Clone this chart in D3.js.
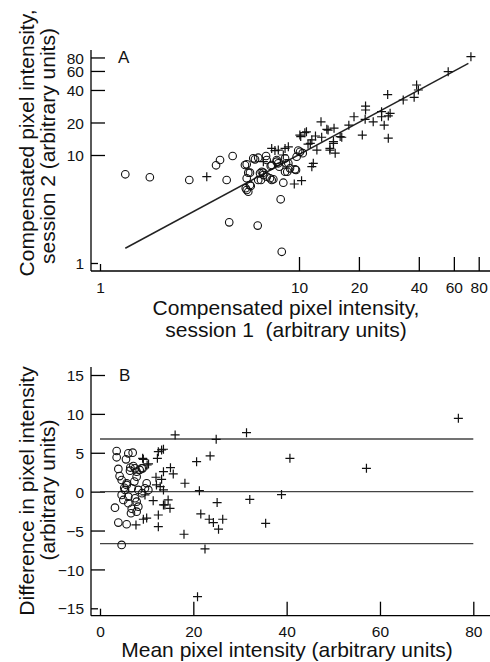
<!DOCTYPE html>
<html lang="en">
<head>
<meta charset="utf-8">
<script src="https://cdn.jsdelivr.net/npm/d3@7"></script>
<style>
  body { margin: 0; background: #fff; }
  svg text { font-family: "Liberation Sans", Arial, Helvetica, sans-serif; fill: #111; }
</style>
</head>
<body>
<script>
// ---- panel A data: session 1 vs session 2 (log-log) ----
const aTicks = [1, 10, 20, 40, 60, 80];

const aCircles = [
  [1.34, 6.63], [1.78, 6.22], [2.81, 5.87], [3.83, 8.03], [4.01, 8.99], [4.64, 9.79],
  [4.33, 5.87], [4.46, 2.38], [5.46, 8.20], [5.67, 6.86], [5.46, 6.09], [5.40, 4.92],
  [5.56, 4.57], [5.72, 5.16], [6.01, 9.12], [6.24, 9.44], [6.83, 9.79], [6.37, 6.77],
  [6.50, 7.00], [6.24, 5.87], [6.62, 6.53], [7.15, 6.09], [7.29, 5.87], [7.21, 7.91],
  [7.73, 8.67], [7.96, 7.79], [8.34, 5.54], [8.61, 8.38], [8.73, 7.00], [9.01, 7.53],
  [9.66, 7.26], [9.73, 9.64], [10.12, 10.7], [10.44, 10.4], [8.09, 3.89], [5.89, 9.31],
  [6.88, 8.99], [6.20, 2.22], [8.19, 1.27], [6.44, 5.87], [7.43, 5.96], [8.51, 7.00],
  [8.84, 8.38], [9.55, 7.37], [9.91, 11.0], [7.29, 8.08], [7.87, 8.38], [5.46, 4.74],
  [5.67, 5.27], [8.51, 9.31], [7.73, 8.99], [6.62, 6.86], [6.88, 6.30], [5.56, 6.86],
  [5.35, 8.08]
];

const aPluses = [
  [73.1, 81.3], [56.2, 59.1], [39.0, 44.5], [39.8, 40.0], [37.9, 34.2], [33.4, 32.3],
  [27.9, 36.3], [21.6, 28.4], [21.6, 26.1], [18.9, 22.6], [17.8, 18.9], [21.5, 21.4],
  [23.6, 20.3], [26.0, 22.6], [26.0, 25.2], [28.7, 24.3], [28.1, 23.0], [26.8, 18.9],
  [20.8, 15.3], [28.1, 14.3], [12.9, 20.3], [14.0, 17.0], [15.0, 17.7], [10.9, 16.4],
  [10.1, 15.3], [10.2, 14.8], [12.1, 15.0], [13.0, 14.6], [16.4, 14.6], [14.9, 12.8],
  [11.4, 12.8], [11.6, 13.8], [12.3, 11.1], [14.3, 11.1], [15.2, 10.4], [8.84, 11.9],
  [8.51, 11.5], [7.29, 11.5], [11.8, 8.38], [11.6, 7.79], [9.47, 5.39], [10.3, 5.78],
  [3.44, 6.30], [7.57, 11.0], [7.87, 11.1], [10.7, 16.1], [13.8, 17.3], [16.1, 14.8],
  [11.1, 12.6], [14.3, 11.5], [14.9, 13.3], [6.62, 8.67], [8.34, 10.0]
];

const aLine = [[1.34, 1.37], [71, 70.6]];

// ---- panel B data: Bland-Altman ----
const bXTicks = [0, 20, 40, 60, 80];
const bYTicks = [15, 10, 5, 0, -5, -10, -15];
const bLimits = [6.77, 0, -6.68];

const bCircles = [
  [3.57, 5.23], [3.57, 4.42], [5.57, 4.16], [6.07, 4.93], [7.00, 5.01], [3.93, 2.92],
  [6.43, 2.70], [7.14, 3.30], [7.50, 3.00], [9.14, 3.00], [4.64, 1.50], [5.71, 0.86],
  [7.85, 1.93], [10.0, 1.08], [3.21, -2.06], [3.93, -3.98], [5.71, -4.19], [4.64, -6.85],
  [6.64, -2.78], [7.85, -2.57], [7.85, 2.57], [7.36, 1.29], [5.36, 0.22], [6.79, 0.44],
  [8.21, 0.22], [9.64, 0.44], [10.36, 0.22], [4.64, -0.42], [6.07, -0.64], [7.50, -0.85],
  [5.00, -1.07], [6.07, -1.49], [7.85, -1.29], [8.21, -1.93], [5.71, 1.08], [8.93, 3.00],
  [6.50, 3.10], [8.50, 2.80], [5.20, 0.50], [9.00, -0.20], [6.80, -2.20], [4.20, 2.00]
];

const bPluses = [
  [16.1, 7.29], [24.9, 6.73], [13.6, 5.45], [12.3, 4.29], [9.14, 4.29], [10.1, 3.43],
  [23.6, 4.59], [20.7, 3.86], [15.1, 3.08], [15.7, 2.28], [13.6, 2.57], [12.0, 1.85],
  [18.2, 1.08], [21.3, 0.13], [12.1, 0.86], [31.4, 7.58], [76.8, 9.43], [40.7, 4.29],
  [57.1, 3.00], [38.9, -0.38], [32.1, -1.00], [35.5, -4.07], [7.71, -4.28], [9.29, -3.55],
  [12.5, -3.00], [12.5, -4.50], [11.4, -1.16], [13.6, -1.71], [15.0, -2.14], [14.6, -1.07],
  [18.0, -5.48], [25.1, -1.41], [21.6, -2.87], [23.4, -3.55], [24.3, -3.98], [26.3, -3.55],
  [25.4, -4.83], [22.5, -7.36], [20.9, -13.5], [13.2, 5.36], [12.5, 5.14], [9.29, 4.16],
  [10.4, 3.56], [13.2, 1.59], [12.9, 0.64], [13.6, 0.22], [9.64, -0.42], [13.9, -1.71],
  [10.0, -3.40]
];

const w = 490, h = 662;
const svg = d3.select("body").append("svg")
  .attr("width", w)
  .attr("height", h);

const plus = "M-4.5,0H4.5M0,-4.5V4.5";

function drawAxes(g, xScale, yScale, xTicks, yTicks, xAxisY, yTop, fmt) {
  // axis lines
  g.append("line").attr("x1", 91).attr("x2", 91).attr("y1", yTop).attr("y2", xAxisY)
    .attr("stroke", "#000").attr("stroke-width", 1.3);
  g.append("line").attr("x1", 91).attr("x2", 490).attr("y1", xAxisY).attr("y2", xAxisY)
    .attr("stroke", "#000").attr("stroke-width", 1.3);

  let xa = g.append("g").attr("transform", "translate(0," + xAxisY + ")")
    .call(d3.axisBottom(xScale).tickValues(xTicks).tickSize(-14).tickFormat(fmt));
  let ya = g.append("g").attr("transform", "translate(91,0)")
    .call(d3.axisLeft(yScale).tickValues(yTicks).tickSize(-14).tickFormat(fmt));

  [xa, ya].forEach(function(a) {
    a.select(".domain").remove();
    a.selectAll("line").attr("stroke", "#000").attr("stroke-width", 1.3);
    a.selectAll("text").attr("font-size", 15.5).attr("fill", "#111");
  });
  xa.selectAll("text").attr("y", 21.5).attr("dy", null);
  ya.selectAll("text").attr("x", -7).attr("dy", "0.36em");

  // the corner ticks are short
  xa.selectAll(".tick").filter(function(d, i) { return i === 0; }).select("line").attr("y2", -7);
  ya.selectAll(".tick").filter(function(d) { return d === d3.min(yTicks); }).select("line").attr("x2", 7);
}

function fmtNum(d) {
  return d < 0 ? "\u2212" + Math.abs(d) : String(d);
}

// ================= panel A =================
const xA = d3.scaleLog().domain([1, 100]).range([100, 498]);
const yA = d3.scaleLog().domain([1, 100]).range([263, 47]);
const gA = svg.append("g");

drawAxes(gA, xA, yA, aTicks, aTicks, 271, 50, fmtNum);

gA.append("path")
  .datum(aLine)
  .attr("d", d3.line().x(function(d) { return xA(d[0]); }).y(function(d) { return yA(d[1]); }))
  .attr("stroke", "#222").attr("stroke-width", 1.5).attr("fill", "none");

gA.selectAll("circle.pt")
  .data(aCircles)
  .join("circle")
  .attr("class", "pt")
  .attr("cx", function(d) { return xA(d[0]); })
  .attr("cy", function(d) { return yA(d[1]); })
  .attr("r", 3.8)
  .attr("fill", "none")
  .attr("stroke", "#111")
  .attr("stroke-width", 1.1);

gA.selectAll("path.plus")
  .data(aPluses)
  .join("path")
  .attr("class", "plus")
  .attr("d", plus)
  .attr("transform", function(d) { return "translate(" + xA(d[0]) + "," + yA(d[1]) + ")"; })
  .attr("stroke", "#111")
  .attr("stroke-width", 1.2);

gA.append("text").attr("x", 118).attr("y", 63).attr("font-size", 17).text("A");

gA.append("text").attr("x", 286).attr("y", 315).attr("font-size", 21)
  .attr("text-anchor", "middle").text("Compensated pixel intensity,");
gA.append("text").attr("x", 286).attr("y", 337).attr("font-size", 21)
  .attr("text-anchor", "middle").attr("xml:space", "preserve").text("session 1  (arbitrary units)");

gA.append("text").attr("transform", "translate(34,143) rotate(-90)").attr("font-size", 21)
  .attr("text-anchor", "middle").text("Compensated pixel intensity,");
gA.append("text").attr("transform", "translate(55,146) rotate(-90)").attr("font-size", 21)
  .attr("text-anchor", "middle").text("session 2 (arbitrary units)");

// ================= panel B =================
const xB = d3.scaleLinear().domain([0, 80]).range([100, 473.3]);
const yB = d3.scaleLinear().domain([-15, 15]).range([608.3, 375]);
const gB = svg.append("g");

drawAxes(gB, xB, yB, bXTicks, bYTicks, 615.7, 367, fmtNum);

gB.selectAll("line.limit")
  .data(bLimits)
  .join("line")
  .attr("class", "limit")
  .attr("x1", xB(0)).attr("x2", xB(80))
  .attr("y1", function(d) { return yB(d); })
  .attr("y2", function(d) { return yB(d); })
  .attr("stroke", "#444").attr("stroke-width", 1.4);

gB.selectAll("circle.pt")
  .data(bCircles)
  .join("circle")
  .attr("class", "pt")
  .attr("cx", function(d) { return xB(d[0]); })
  .attr("cy", function(d) { return yB(d[1]); })
  .attr("r", 3.8)
  .attr("fill", "none")
  .attr("stroke", "#111")
  .attr("stroke-width", 1.1);

gB.selectAll("path.plus")
  .data(bPluses)
  .join("path")
  .attr("class", "plus")
  .attr("d", plus)
  .attr("transform", function(d) { return "translate(" + xB(d[0]) + "," + yB(d[1]) + ")"; })
  .attr("stroke", "#111")
  .attr("stroke-width", 1.2);

gB.append("text").attr("x", 119).attr("y", 381).attr("font-size", 17).text("B");

gB.append("text").attr("x", 287).attr("y", 657).attr("font-size", 21)
  .attr("text-anchor", "middle").text("Mean pixel intensity (arbitrary units)");

gB.append("text").attr("transform", "translate(34,491) rotate(-90)").attr("font-size", 21)
  .attr("text-anchor", "middle").text("Difference in pixel intensity");
gB.append("text").attr("transform", "translate(55,490) rotate(-90)").attr("font-size", 21)
  .attr("text-anchor", "middle").text("(arbitrary units)");
</script>
</body>
</html>
